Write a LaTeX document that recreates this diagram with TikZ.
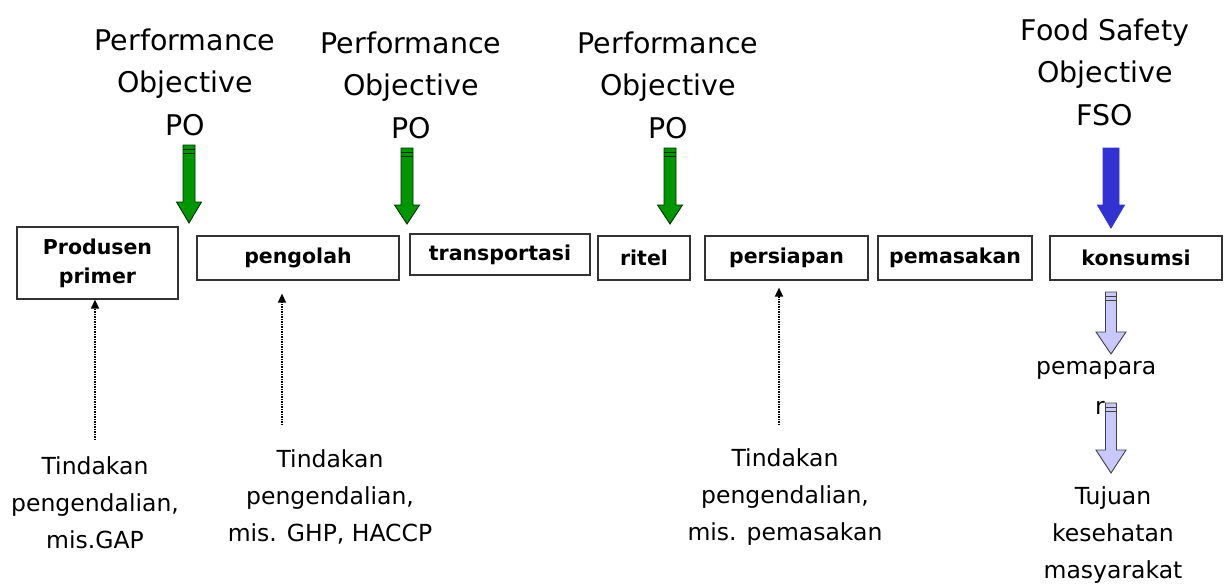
\documentclass[tikz,border=0pt]{standalone}
\usepackage{fontspec}
\setmainfont{DejaVu Sans}
\usetikzlibrary{arrows.meta}
\definecolor{agreen}{RGB}{0,150,0}
\definecolor{ablue}{RGB}{50,50,210}
\definecolor{alight}{RGB}{200,200,255}
\tikzset{
  x=1pt, y=-1pt,
  toplbl/.style={align=center, font=\fontsize{28.5}{42.5}\selectfont, inner sep=0pt},
  botlbl/.style={align=center, font=\fontsize{23.5}{37}\selectfont, inner sep=0pt},
  stagebox/.style={draw=black!80, line width=1.2pt, inner sep=0pt, font=\bfseries\fontsize{20.5}{29}\selectfont, align=center},
  ctrl/.style={densely dotted, line width=1.5pt, -{Triangle[length=9pt,width=8pt]}},
  pics/blockarrow/.style n args={6}{code={%
    \path[fill=#1, draw=#2, line width=0.9pt]
      (-#3,0) -- (#3,0) -- (#3,#5) -- (#4,#5) -- (0,#6) -- (-#4,#5) -- (-#3,#5) -- cycle;
    \draw[#2, line width=0.9pt] (-#3,4) -- (#3,4) (-#3,8) -- (#3,8);
  }},
}
\begin{document}
\begin{tikzpicture}
\useasboundingbox (0,0) rectangle (1224,587);
% top labels
\node[toplbl] (po1) at (185,82) {Performance\\Objective\\PO};
\node[toplbl] (po2) at (411,85) {Performance\\Objective\\PO};
\node[toplbl] (po3) at (668,85) {Performance\\Objective\\PO};
\node[toplbl] (fso) at (1105,72) {Food Safety\\Objective\\FSO};
% arrows from objectives
\pic at (189,145) {blockarrow={agreen}{black!70!agreen}{6}{12.5}{57}{78}};
\pic at (407,148) {blockarrow={agreen}{black!70!agreen}{6}{12.5}{57}{76}};
\pic at (670,148) {blockarrow={agreen}{black!70!agreen}{6}{12.5}{57}{76}};
\pic at (1111,148) {blockarrow={ablue}{ablue}{8}{13.5}{57}{80}};
% stage boxes
\node[stagebox, minimum width=161, minimum height=72] (prod) at (97.5,263) {Produsen\\primer};
\node[stagebox, minimum width=202, minimum height=44] (olah) at (298,258) {pengolah};
\node[stagebox, minimum width=180, minimum height=41] (trans) at (500,254.5) {transportasi};
\node[stagebox, minimum width=92, minimum height=44] (ritel) at (644,258) {ritel};
\node[stagebox, minimum width=163, minimum height=44] (siap) at (786.5,258) {persiapan};
\node[stagebox, minimum width=154, minimum height=44] (masak) at (955,258) {pemasakan};
\node[stagebox, minimum width=172, minimum height=44] (kons) at (1136,258) {konsumsi};
% bottom labels
\node[botlbl] (t1) at (95,503) {Tindakan\\pengendalian,\\mis.GAP};
\node[botlbl] (t2) at (330,497) {Tindakan\\pengendalian,\\mis. GHP, HACCP};
\node[botlbl] (t3) at (785,497) {Tindakan\\pengendalian,\\mis. pemasakan};
% control arrows
\coordinate (c1) at (95,440);
\coordinate (c2) at (282,425);
\coordinate (c3) at (779,425);
\draw[ctrl] (c1) -- (prod.south -| c1);
\draw[ctrl] (c2) -- ([yshift=-13pt]olah.south -| c2);
\draw[ctrl] (c3) -- ([yshift=-7pt]siap.south -| c3);
% consumer chain
\pic at (1111,292) {blockarrow={alight}{black!75}{5.5}{15}{40}{62}};
\node[botlbl, anchor=west] (pap) at (1036,370) {pemapara};
\node[botlbl] (r) at (1100,408) {r};
\pic at (1111,403) {blockarrow={alight}{black!75}{5.5}{15}{47}{70}};
\node[botlbl] (tuj) at (1113,535) {Tujuan\\kesehatan\\masyarakat};
\end{tikzpicture}
\end{document}
